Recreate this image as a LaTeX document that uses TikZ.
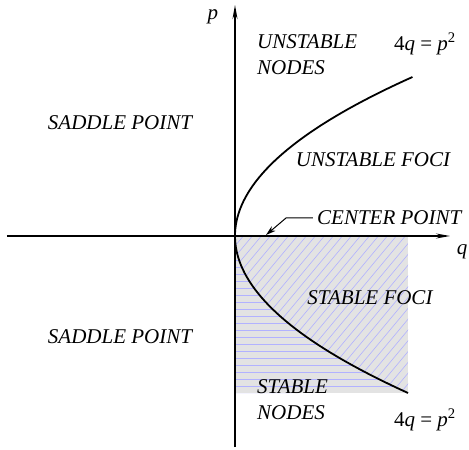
\documentclass[tikz,border=0pt]{standalone}
\usepackage{fontspec}
\setmainfont{Liberation Serif}
\usetikzlibrary{arrows.meta}

\begin{document}
\begin{tikzpicture}[
    x=10pt, y=10pt,
    axis/.style={-{Stealth[length=14pt, width=5pt]}, line width=1.2pt},
    region/.style={font=\fontsize{21}{26}\selectfont\itshape, align=left, inner sep=0pt},
    hatch/.style={blue!30, line width=0.6pt},
    pointer/.style={-{Stealth[length=10pt, width=6pt]}, line width=1pt},
    parab/.style={line width=1.8pt}
]
\useasboundingbox (-23.5,-21.4) rectangle (23.4,23.6);

% stable quarter: grey with two kinds of hatching
\fill[gray!22] (0,0) rectangle (17.3,-15.7);
\begin{scope}
  \clip (0,0) -- plot[domain=0:-15.7, samples=40] ({0.0702*\x*\x},\x) -- (0,-15.7) -- cycle;
  \foreach \h in {-0.35,-1.05,...,-16} \draw[hatch] (0,\h) -- (17.3,\h);
\end{scope}
\begin{scope}
  \clip (0,0) -- plot[domain=0:-15.7, samples=40] ({0.0702*\x*\x},\x) -- (17.3,0) -- cycle;
  \foreach \s in {-17,-16.1,...,18} \draw[hatch] (\s,-16) -- ++(17,20.4);
\end{scope}

% axes
\coordinate (qmin) at (-22.8,0);
\coordinate (qmax) at (21.5,0);
\coordinate (pmin) at (0,-21.1);
\coordinate (pmax) at (0,23.1);
\draw[axis] (qmin) -- (qmax);
\draw[axis] (pmin) -- (pmax);
\node[region] (plab) at (-2.2,21.9) {p};
\node[region] (qlab) at (22.7,-1.6) {q};

% 4q = p^2
\draw[parab] plot[domain=-15.7:15.9, samples=80] ({0.0702*\x*\x},\x);

% labels
\node[region, anchor=west] (unodes) at (2.2,18.15) {UNSTABLE\\NODES};
\node[region] (eqtop) at (19.0,19.2) {{\upshape 4}q {\upshape =} p\textsuperscript{\upshape 2}};
\node[region] (saddletop) at (-11.5,11.3) {SADDLE POINT};
\node[region] (ufoci) at (13.8,7.6) {UNSTABLE FOCI};
\node[region, anchor=west] (center) at (8.2,1.8) {CENTER POINT};
\node[region] (sfoci) at (13.5,-6.2) {STABLE FOCI};
\node[region, anchor=west] (snodes) at (2.2,-16.35) {STABLE\\NODES};
\node[region] (eqbot) at (19.0,-18.4) {{\upshape 4}q {\upshape =} p\textsuperscript{\upshape 2}};
\node[region] (saddlebot) at (-11.5,-10.1) {SADDLE POINT};

\coordinate (cpt) at (3.1,0.1);
\draw[pointer] (center.west) ++(-0.4,0) -- ++(-2.7,0) -- (cpt);
\end{tikzpicture}
\end{document}
